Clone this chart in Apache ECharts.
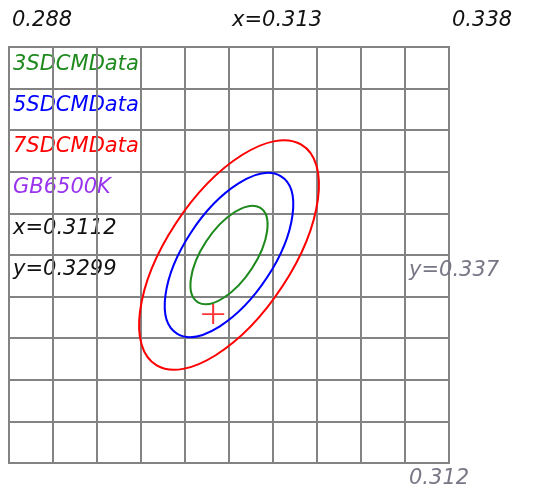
<!DOCTYPE html>
<html>
<head>
<meta charset="utf-8">
<script src="https://cdn.jsdelivr.net/npm/echarts@6/dist/echarts.min.js"></script>
<style>html,body{margin:0;padding:0;background:#fff}#chart{width:535px;height:495px}</style>
</head>
<body>
<div id="chart"></div>
<script>
// ---- data ----
const xRange = [0.288, 0.338];
const yRange = [0.312, 0.362];
const gridStep = 0.005;
const xTickValues = [0.288, 0.313, 0.338];
const xTickLabels = ['0.288', 'x=0.313', '0.338'];
const yTickValues = [0.312, 0.337];
const yTickLabels = ['0.312', 'y=0.337'];

const ellipseNames = ['3SDCMData', '5SDCMData', '7SDCMData'];
const ellipseCenterX = [0.313, 0.313, 0.313];
const ellipseCenterY = [0.337, 0.337, 0.337];
const ellipseSemiMajor = [0.00669, 0.01115, 0.01561];
const ellipseSemiMinor = [0.00306, 0.0051, 0.00714];
const ellipseTiltDeg = [58.23, 58.23, 58.23];

const pointName = 'GB6500K';
const pointX = 0.3112;
const pointY = 0.3299;

// ---- styles ----
const ellipseColors = ['#1e8a1e', '#0000ff', '#ff0000'];
const pointTextColor = '#9933ee';
const lineColor = '#838383';
const font = 'italic 21px "DejaVu Sans"';

function labelFor(values, labels, v) {
  for (let i = 0; i < values.length; i++) {
    if (Math.abs(values[i] - v) < 1e-7) return labels[i];
  }
  return '';
}

const chart = echarts.init(document.getElementById('chart'), null, {renderer: 'canvas'});

const ellipseSeries = ellipseNames.map((name, i) => ({
  name: name,
  type: 'custom',
  coordinateSystem: 'cartesian2d',
  clip: false,
  silent: true,
  data: [[ellipseCenterX[i], ellipseCenterY[i], ellipseSemiMajor[i], ellipseSemiMinor[i], ellipseTiltDeg[i]]],
  renderItem: function (params, api) {
    const cx = api.value(0), cy = api.value(1);
    const c = api.coord([cx, cy]);
    const d = 0.01;
    const px = api.coord([cx + d, cy]);
    const py = api.coord([cx, cy + d]);
    const sx = (px[0] - c[0]) / d;
    const sy = (py[1] - c[1]) / d;
    return {
      type: 'group',
      x: c[0], y: c[1],
      scaleX: sx, scaleY: sy,
      children: [{
        type: 'ellipse',
        shape: {cx: 0, cy: 0, rx: api.value(2), ry: api.value(3)},
        rotation: -api.value(4) * Math.PI / 180,
        style: {fill: 'none', stroke: ellipseColors[i], lineWidth: 2, strokeNoScale: true}
      }]
    };
  }
}));

const textItems = [];
const legendTexts = ellipseNames.map((n, i) => ({text: n, color: ellipseColors[i]}))
  .concat([
    {text: pointName, color: pointTextColor},
    {text: 'x=' + pointX.toFixed(4), color: '#111'},
    {text: 'y=' + pointY.toFixed(4), color: '#111'}
  ]);
legendTexts.forEach((t, i) => {
  textItems.push({
    type: 'text', x: 13, y: 64.5 + 41 * i, silent: true,
    style: {text: t.text, fill: t.color, font: font, verticalAlign: 'middle', textAlign: 'left'}
  });
});

const option = {
  backgroundColor: '#fff',
  animation: false,
  grid: {left: 9, top: 47, width: 440, height: 416, show: true, borderColor: lineColor, borderWidth: 2, backgroundColor: 'transparent'},
  xAxis: {
    type: 'value', position: 'top', min: xRange[0], max: xRange[1], interval: gridStep,
    axisLine: {show: true, lineStyle: {color: lineColor, width: 2}},
    axisTick: {show: false},
    splitLine: {show: true, lineStyle: {color: lineColor, width: 2}},
    axisLabel: {
      show: true, showMinLabel: true, showMaxLabel: true, align: 'left', margin: 16,
      padding: [0, 0, 0, 3],
      color: '#111', fontFamily: 'DejaVu Sans', fontStyle: 'italic', fontSize: 21,
      formatter: v => labelFor(xTickValues, xTickLabels, v)
    }
  },
  yAxis: {
    type: 'value', position: 'right', min: yRange[0], max: yRange[1], interval: gridStep,
    axisLine: {show: true, lineStyle: {color: lineColor, width: 2}},
    axisTick: {show: false},
    splitLine: {show: true, lineStyle: {color: lineColor, width: 2}},
    axisLabel: {
      show: true, showMinLabel: true, showMaxLabel: true, align: 'left', margin: -40,
      verticalAlign: 'top', padding: [5, 0, 0, 0],
      color: '#777786', fontFamily: 'DejaVu Sans', fontStyle: 'italic', fontSize: 21,
      formatter: v => labelFor(yTickValues, yTickLabels, v)
    }
  },
  graphic: textItems,
  series: ellipseSeries.concat([{
    name: pointName,
    type: 'scatter',
    data: [[pointX, pointY]],
    symbol: 'path://M10,0h2v10h10v2h-10v10h-2v-10h-10v-2h10z',
    symbolSize: [22, 20],
    itemStyle: {color: '#ff0000'},
    silent: true
  }])
};
chart.setOption(option);
</script>
</body>
</html>
